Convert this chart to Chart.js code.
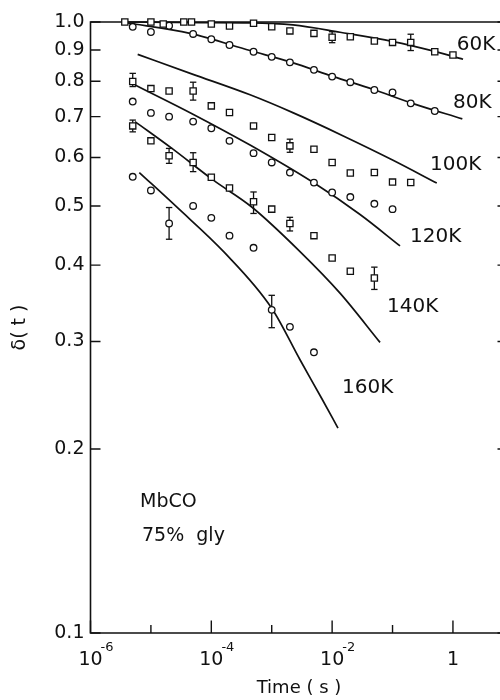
<!DOCTYPE html>
<html><head><meta charset="utf-8">
<script src="https://cdn.jsdelivr.net/npm/chart.js@4/dist/chart.umd.min.js"></script>
<style>html,body{margin:0;padding:0;background:#fff;overflow:hidden;width:500px;height:700px}canvas{display:block}</style>
</head><body>
<canvas id="c" width="520" height="700"></canvas>
<script>
// ---- tick values / labels ----
const yTicks = [0.1, 0.2, 0.3, 0.4, 0.5, 0.6, 0.7, 0.8, 0.9, 1.0];
const yTickLabels = ['0.1', '0.2', '0.3', '0.4', '0.5', '0.6', '0.7', '0.8', '0.9', '1.0'];
const xTicks = [1e-6, 1e-5, 1e-4, 1e-3, 1e-2, 1e-1, 1];
const xLabelBase = ['10', '', '10', '', '10', '', '1'];
const xLabelExp = ['-6', '', '-4', '', '-2', '', ''];

// ---- measured points (time in s, delta(t)) ----
const t60 = [3.7e-6, 1e-5, 1.6e-5, 3.5e-5, 4.7e-5, 1e-4, 2e-4, 5e-4, 1e-3, 2e-3, 5e-3, 1e-2, 2e-2, 5e-2, 1e-1, 2e-1, 5e-1, 1];
const d60 = [1.0, 1.0, 0.9925, 1.0, 1.0, 0.9925, 0.985, 0.995, 0.982, 0.967, 0.958, 0.944, 0.946, 0.931, 0.926, 0.926, 0.894, 0.883];
const t80 = [5e-6, 1e-5, 2e-5, 5e-5, 1e-4, 2e-4, 5e-4, 1e-3, 2e-3, 5e-3, 1e-2, 2e-2, 5e-2, 1e-1, 2e-1, 5e-1];
const d80 = [0.982, 0.963, 0.986, 0.956, 0.937, 0.917, 0.894, 0.877, 0.859, 0.835, 0.814, 0.797, 0.774, 0.767, 0.736, 0.715];
const t100 = [5e-6, 1e-5, 2e-5, 5e-5, 1e-4, 2e-4, 5e-4, 1e-3, 2e-3, 5e-3, 1e-2, 2e-2, 5e-2, 1e-1, 2e-1];
const d100 = [0.799, 0.778, 0.771, 0.771, 0.729, 0.711, 0.676, 0.647, 0.627, 0.619, 0.589, 0.566, 0.567, 0.547, 0.546];
const t120 = [5e-6, 1e-5, 2e-5, 5e-5, 1e-4, 2e-4, 5e-4, 1e-3, 2e-3, 5e-3, 1e-2, 2e-2, 5e-2, 1e-1];
const d120 = [0.741, 0.710, 0.700, 0.687, 0.670, 0.639, 0.610, 0.589, 0.567, 0.546, 0.526, 0.517, 0.504, 0.494];
const t140 = [5e-6, 1e-5, 2e-5, 5e-5, 1e-4, 2e-4, 5e-4, 1e-3, 2e-3, 5e-3, 1e-2, 2e-2, 5e-2];
const d140 = [0.676, 0.639, 0.604, 0.589, 0.557, 0.535, 0.508, 0.494, 0.468, 0.447, 0.411, 0.391, 0.381];
const t160 = [5e-6, 1e-5, 2e-5, 5e-5, 1e-4, 2e-4, 5e-4, 1e-3, 2e-3, 5e-3];
const d160 = [0.558, 0.530, 0.468, 0.500, 0.478, 0.447, 0.427, 0.338, 0.317, 0.288];

// ---- error bars ----
const errT = [1e-2, 2e-1, 5e-6, 5e-5, 2e-3, 5e-6, 2e-5, 5e-5, 5e-4, 2e-3, 5e-2, 2e-5, 1e-3];
const errLo = [0.925, 0.898, 0.784, 0.745, 0.612, 0.661, 0.587, 0.569, 0.486, 0.455, 0.365, 0.441, 0.316];
const errHi = [0.964, 0.955, 0.824, 0.797, 0.643, 0.691, 0.621, 0.611, 0.527, 0.479, 0.397, 0.497, 0.357];

// ---- fitted curves ----
const c60T = [3.72e-6, 6.5e-5, 4.38e-4, 2.25e-3, 1.35e-2, 0.102, 0.463, 1.47];
const c60D = [1.0, 0.998, 0.997, 0.989, 0.962, 0.929, 0.897, 0.869];
const c80T = [3.72e-6, 4.44e-5, 4.38e-4, 2.14e-3, 1.05e-2, 4.7e-2, 0.213, 1.43];
const c80D = [0.998, 0.958, 0.898, 0.859, 0.814, 0.776, 0.736, 0.694];
const c100T = [6.04e-6, 4.98e-5, 4.38e-4, 2.28e-3, 1.53e-2, 0.102, 0.54];
const c100D = [0.885, 0.821, 0.760, 0.710, 0.651, 0.594, 0.545];
const c120T = [5.46e-6, 4.79e-5, 4.38e-4, 4.89e-3, 2.9e-2, 0.133];
const c120D = [0.789, 0.708, 0.629, 0.546, 0.484, 0.430];
const c140T = [5.46e-6, 2.23e-5, 1.08e-4, 4.67e-4, 2.94e-3, 1.35e-2, 6.21e-2];
const c140D = [0.687, 0.621, 0.551, 0.498, 0.421, 0.360, 0.299];
const c160T = [6.43e-6, 2.67e-5, 1.63e-4, 1e-3, 2.94e-3, 6.73e-3, 1.25e-2];
const c160D = [0.567, 0.498, 0.420, 0.340, 0.280, 0.242, 0.2165];

// ---- text annotations (anchored in data units) ----
const noteText = ['60K', '80K', '100K', '120K', '140K', '160K', 'MbCO', '75%  gly'];
const noteT = [1.16, 1.0, 0.418, 0.195, 0.081, 0.0146, 6.6e-6, 7.12e-6];
const noteD = [0.900, 0.723, 0.573, 0.4365, 0.335, 0.247, 0.1608, 0.1414];

const FONT = "'DejaVu Sans', 'Liberation Sans', sans-serif";
const INK = '#111';
Chart.defaults.font.family = FONT;
Chart.defaults.color = INK;

const pts = (ts, ds) => ts.map((t, i) => ({x: t, y: ds[i]}));
function curve(ts, ds) {
  return {type: 'line', data: pts(ts, ds), borderColor: INK, borderWidth: 1.7, pointRadius: 0,
    fill: false, cubicInterpolationMode: 'monotone', clip: false, order: 3};
}
function marks(ts, ds, style) {
  return {type: 'scatter', data: pts(ts, ds), showLine: false, pointStyle: style,
    pointRadius: style === 'rect' ? 4.4 : 3.3, pointHoverRadius: 0, borderColor: INK,
    backgroundColor: '#fff', pointBorderWidth: 1.3, borderWidth: 1.3, clip: false, order: 1};
}
const errData = [];
errT.forEach((t, i) => { errData.push({x: t, y: errLo[i]}, {x: t, y: errHi[i]}, {x: t, y: null}); });

const axesPlugin = {
  id: 'axesPlugin',
  beforeDatasetsDraw(chart) {
    const {ctx, chartArea: a, scales: {x, y}} = chart;
    ctx.save();
    ctx.strokeStyle = INK;
    ctx.lineWidth = 1.6;
    ctx.beginPath();
    ctx.moveTo(a.left, a.top); ctx.lineTo(a.right, a.top); ctx.lineTo(a.right, a.bottom);
    ctx.lineTo(a.left, a.bottom); ctx.closePath(); ctx.stroke();
    ctx.lineWidth = 1.4;
    ctx.beginPath();
    yTicks.forEach(v => {
      const py = y.getPixelForValue(v);
      ctx.moveTo(a.left, py); ctx.lineTo(a.left + 10, py);
      ctx.moveTo(a.right, py); ctx.lineTo(a.right - 10, py);
    });
    xTicks.forEach((v, i) => {
      const px = x.getPixelForValue(v);
      const len = xLabelBase[i] ? 12.5 : 8;
      ctx.moveTo(px, a.bottom); ctx.lineTo(px, a.bottom - len);
    });
    ctx.stroke();
    ctx.restore();
  },
  afterDraw(chart) {
    const {ctx, chartArea: a, scales: {x, y}} = chart;
    ctx.save();
    ctx.fillStyle = INK;
    ctx.textBaseline = 'alphabetic';
    xTicks.forEach((v, i) => {
      if (!xLabelBase[i]) return;
      const px = x.getPixelForValue(v);
      ctx.font = "19px " + FONT;
      ctx.textAlign = 'center';
      ctx.fillText(xLabelBase[i], px, a.bottom + 32);
      if (xLabelExp[i]) {
        const w = ctx.measureText(xLabelBase[i]).width;
        ctx.font = "13px " + FONT;
        ctx.textAlign = 'left';
        ctx.fillText(xLabelExp[i], px + w / 2 - 2, a.bottom + 18);
      }
    });
    ctx.textAlign = 'left';
    noteText.forEach((s, i) => {
      ctx.font = (i < 6 ? "20px " : "19px ") + FONT;
      ctx.fillText(s, x.getPixelForValue(noteT[i]), y.getPixelForValue(noteD[i]));
    });
    ctx.restore();
  }
};

new Chart(document.getElementById('c'), {
  type: 'scatter',
  data: {
    datasets: [
      curve(c60T, c60D), curve(c80T, c80D), curve(c100T, c100D),
      curve(c120T, c120D), curve(c140T, c140D), curve(c160T, c160D),
      {type: 'line', data: errData, spanGaps: false, borderColor: INK, borderWidth: 1.3,
        pointStyle: 'line', pointRadius: 3.2, pointBorderWidth: 1.3, pointBorderColor: INK,
        fill: false, clip: false, order: 2},
      marks(t60, d60, 'rect'), marks(t80, d80, 'circle'), marks(t100, d100, 'rect'),
      marks(t120, d120, 'circle'), marks(t140, d140, 'rect'), marks(t160, d160, 'circle')
    ]
  },
  options: {
    responsive: false,
    animation: false,
    events: [],
    layout: {padding: {top: 22, right: 12.5, left: 0, bottom: 0}},
    plugins: {legend: {display: false}, tooltip: {enabled: false}},
    scales: {
      x: {
        type: 'logarithmic', position: 'bottom', min: 1e-6, max: 8,
        grid: {display: false, drawTicks: false}, border: {display: false},
        ticks: {display: false},
        afterBuildTicks(s) { s.ticks = xTicks.map(v => ({value: v})); },
        title: {display: true, text: 'Time ( s )', color: INK, font: {family: FONT, size: 18}, padding: {top: 0, bottom: 1}},
        afterFit(s) { s.height = 67; s.paddingLeft = 0; s.paddingRight = 0; }
      },
      y: {
        type: 'logarithmic', position: 'left', min: 0.1, max: 1.0,
        grid: {display: false, drawTicks: false}, border: {display: false},
        ticks: {color: INK, font: {family: FONT, size: 19}, padding: 6, autoSkip: false,
          callback: (v, i) => yTickLabels[i]},
        afterBuildTicks(s) { s.ticks = yTicks.map(v => ({value: v})); },
        title: {display: true, text: 'δ( t )', color: INK, font: {family: FONT, size: 19}, padding: {top: 9, bottom: 0}},
        afterFit(s) { s.width = 90.5; s.paddingTop = 0; s.paddingBottom = 0; }
      }
    }
  },
  plugins: [axesPlugin]
});
</script>
</body></html>
